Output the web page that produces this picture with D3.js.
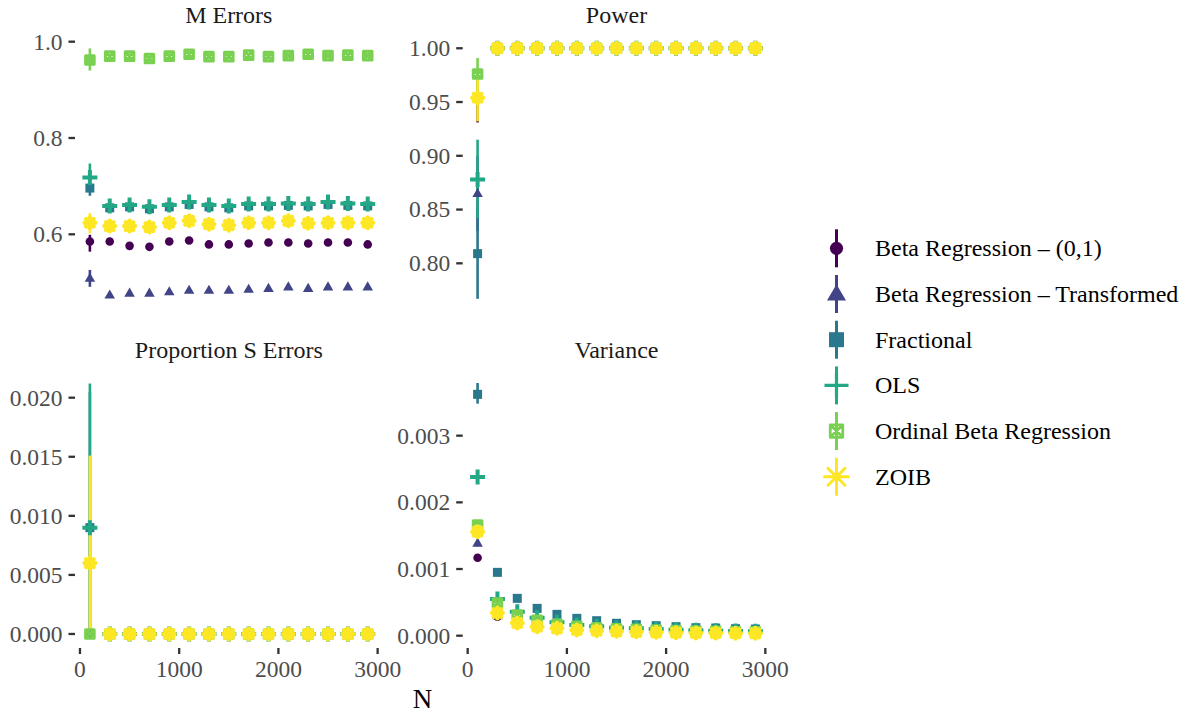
<!DOCTYPE html>
<html>
<head>
<meta charset="utf-8">
<script src="https://cdn.jsdelivr.net/npm/d3@7"></script>
<style>
	body { margin: 0; background: #fff; }
	text { font-family: "Liberation Serif", "Times New Roman", Times, "DejaVu Serif", serif; }
</style>
</head>
<body>
<svg id="chart" width="1188" height="715"></svg>
<script>
const sampleSizes = [100, 300, 500, 700, 900, 1100, 1300, 1500, 1700, 1900, 2100, 2300, 2500, 2700, 2900];
const methods = ["Beta Regression \u2013 (0,1)", "Beta Regression \u2013 Transformed", "Fractional", "OLS", "Ordinal Beta Regression", "ZOIB"];
const shapes = ["circle", "triangle", "square", "plus", "squareX", "asterisk"];
const palette = ["#440154", "#414487", "#2A788E", "#22A884", "#7AD151", "#FDE725"];

// one row per method, one value per sample size
const mErrorsEst = [
	[0.585, 0.585, 0.576, 0.574, 0.585, 0.587, 0.579, 0.579, 0.581, 0.583, 0.583, 0.581, 0.583, 0.583, 0.579],
	[0.509, 0.474, 0.478, 0.478, 0.481, 0.484, 0.484, 0.484, 0.486, 0.488, 0.491, 0.488, 0.491, 0.491, 0.491],
	[0.696, 0.655, 0.657, 0.653, 0.657, 0.662, 0.657, 0.655, 0.659, 0.659, 0.660, 0.659, 0.662, 0.660, 0.659],
	[0.718, 0.659, 0.661, 0.657, 0.661, 0.667, 0.661, 0.659, 0.663, 0.663, 0.664, 0.663, 0.667, 0.664, 0.663],
	[0.962, 0.970, 0.970, 0.965, 0.970, 0.974, 0.969, 0.969, 0.972, 0.969, 0.971, 0.974, 0.971, 0.972, 0.971],
	[0.624, 0.617, 0.617, 0.615, 0.624, 0.628, 0.621, 0.619, 0.624, 0.624, 0.628, 0.623, 0.624, 0.624, 0.624]
];
const mErrorsCi = [[0.564, 0.599], [0.491, 0.526], [0.680, 0.710], [0.692, 0.747], [0.940, 0.986], [0.602, 0.644]];

const powerEst = [
	[0.953, 1, 1, 1, 1, 1, 1, 1, 1, 1, 1, 1, 1, 1, 1],
	[0.865, 1, 1, 1, 1, 1, 1, 1, 1, 1, 1, 1, 1, 1, 1],
	[0.809, 1, 1, 1, 1, 1, 1, 1, 1, 1, 1, 1, 1, 1, 1],
	[0.878, 1, 1, 1, 1, 1, 1, 1, 1, 1, 1, 1, 1, 1, 1],
	[0.976, 1, 1, 1, 1, 1, 1, 1, 1, 1, 1, 1, 1, 1, 1],
	[0.954, 1, 1, 1, 1, 1, 1, 1, 1, 1, 1, 1, 1, 1, 1]
];
const powerCi = [[0.931, 0.975], [0.830, 0.900], [0.767, 0.850], [0.842, 0.915], [0.961, 0.991], [0.932, 0.974]];

const sErrorsEst = [
	[0, 0, 0, 0, 0, 0, 0, 0, 0, 0, 0, 0, 0, 0, 0],
	[0, 0, 0, 0, 0, 0, 0, 0, 0, 0, 0, 0, 0, 0, 0],
	[0.009, 0, 0, 0, 0, 0, 0, 0, 0, 0, 0, 0, 0, 0, 0],
	[0.009, 0, 0, 0, 0, 0, 0, 0, 0, 0, 0, 0, 0, 0, 0],
	[0, 0, 0, 0, 0, 0, 0, 0, 0, 0, 0, 0, 0, 0, 0],
	[0.006, 0, 0, 0, 0, 0, 0, 0, 0, 0, 0, 0, 0, 0, 0]
];
const sErrorsCi = [[0, 0], [0, 0], [0, 0.0205], [0, 0.0212], [0, 0], [0, 0.0151]];

const varianceEst = [
	[0.00117, 0.000285, 0.00017, 0.00012, 0.0001, 0.00008, 0.00007, 0.00006, 0.000055, 0.00005, 0.000045, 0.00004, 0.00004, 0.000035, 0.000035],
	[0.00139, 0.0003, 0.00018, 0.00013, 0.0001, 0.000085, 0.000075, 0.000065, 0.00006, 0.000052, 0.000048, 0.000044, 0.00004, 0.000038, 0.000036],
	[0.00362, 0.00095, 0.00056, 0.00041, 0.00032, 0.00026, 0.000225, 0.000186, 0.000165, 0.00015, 0.000135, 0.00012, 0.000115, 0.000105, 0.0001],
	[0.00238, 0.00055, 0.00036, 0.00027, 0.0002, 0.00016, 0.00014, 0.00012, 0.00011, 0.0001, 0.00009, 0.00008, 0.000075, 0.00007, 0.000065],
	[0.00166, 0.00049, 0.00031, 0.00023, 0.00017, 0.00014, 0.00012, 0.000105, 0.000095, 0.000085, 0.000078, 0.00007, 0.000065, 0.00006, 0.000057],
	[0.00156, 0.00034, 0.00019, 0.000135, 0.00011, 0.000086, 0.000075, 0.000065, 0.000058, 0.00005, 0.000046, 0.000042, 0.00004, 0.000037, 0.000035]
];
const varianceCi = [[0.00113, 0.00121], [0.00134, 0.00144], [0.00348, 0.00379], [0.00228, 0.00248], [0.0016, 0.00172], [0.0015, 0.00162]];

const xTicks = [0, 1000, 2000, 3000];

const panels = [
	{ title: "M Errors", est: mErrorsEst, ci: mErrorsCi, domain: [0.4397, 1.0118], ticks: [0.6, 0.8, 1.0], fmt: ".1f", col: 0, row: 0 },
	{ title: "Power", est: powerEst, ci: powerCi, domain: [0.7552, 1.0114], ticks: [0.80, 0.85, 0.90, 0.95, 1.00], fmt: ".2f", col: 1, row: 0 },
	{ title: "Proportion S Errors", est: sErrorsEst, ci: sErrorsCi, domain: [-0.00106, 0.02226], ticks: [0, 0.005, 0.010, 0.015, 0.020], fmt: ".3f", col: 0, row: 1 },
	{ title: "Variance", est: varianceEst, ci: varianceCi, domain: [-0.000162, 0.00397], ticks: [0, 0.001, 0.002, 0.003], fmt: ".3f", col: 1, row: 1 }
];

const plotMarks = { r: 4.3, tri: 10.5, sq: 9, sqx: 8.6, sqxW: 3, plus: 15, plusW: 4, ast: 10.5, astW: 4.5 };
const legendMarks = { r: 6.6, tri: 19, sq: 15, sqx: 12.5, sqxW: 2.8, plus: 24, plusW: 3.2, ast: 24, astW: 3 };
const serif = "'Liberation Serif', 'Times New Roman', Times, 'DejaVu Serif', serif";

class FacetPlot {
	constructor(svg) {
		this.svg = d3.select(svg).attr("font-family", serif);
		this.colX = [76, 463.7];
		this.rowY = [36, 371];
		this.w = 305.6;
		this.h = 275.5;
		this.x = d3.scaleLinear().domain([-40, 3040]).range([0, this.w]);
	}

	static marker(g, kind, color, m) {
		if (kind === "circle") {
			g.append("circle").attr("r", m.r).attr("fill", color);
		} else if (kind === "triangle") {
			const s = m.tri, hh = s * 0.866;
			g.append("path")
				.attr("d", `M0,${-hh * 0.6}L${s / 2},${hh * 0.4}L${-s / 2},${hh * 0.4}Z`)
				.attr("fill", color);
		} else if (kind === "square") {
			g.append("rect")
				.attr("x", -m.sq / 2).attr("y", -m.sq / 2)
				.attr("width", m.sq).attr("height", m.sq)
				.attr("fill", color);
		} else if (kind === "plus") {
			const a = m.plus / 2;
			g.append("path")
				.attr("d", `M${-a},0H${a}M0,${-a}V${a}`)
				.attr("stroke", color).attr("stroke-width", m.plusW);
		} else if (kind === "squareX") {
			const a = m.sqx / 2;
			g.append("path")
				.attr("d", `M${-a},${-a}H${a}V${a}H${-a}ZM${-a},${-a}L${a},${a}M${a},${-a}L${-a},${a}`)
				.attr("fill", "none")
				.attr("stroke", color).attr("stroke-width", m.sqxW)
				.attr("stroke-linejoin", "round");
		} else if (kind === "asterisk") {
			const a = m.ast / 2, d = a * 0.7071;
			g.append("path")
				.attr("d", `M${-a},0H${a}M0,${-a}V${a}M${-d},${-d}L${d},${d}M${d},${-d}L${-d},${d}`)
				.attr("stroke", color).attr("stroke-width", m.astW)
				.attr("stroke-linecap", "round");
		}
	}

	drawPanel(p) {
		const x0 = this.colX[p.col], y0 = this.rowY[p.row];
		const y = d3.scaleLinear().domain(p.domain).range([this.h, 0]);
		const g = this.svg.append("g").attr("transform", `translate(${x0},${y0})`);

		g.append("text")
			.attr("x", this.w / 2).attr("y", -13)
			.attr("text-anchor", "middle")
			.attr("font-size", 24).attr("fill", "#1A1A1A")
			.text(p.title);

		const yAxis = g.append("g").attr("class", "y-axis");
		p.ticks.forEach(t => {
			yAxis.append("line")
				.attr("x1", -7.5).attr("x2", -1)
				.attr("y1", y(t)).attr("y2", y(t))
				.attr("stroke", "#333333").attr("stroke-width", 2.3);
			yAxis.append("text")
				.attr("x", -13.5).attr("y", y(t) + 7.9)
				.attr("text-anchor", "end")
				.attr("font-size", 23.5).attr("fill", "#4D4D4D")
				.text(d3.format(p.fmt)(t));
		});

		if (p.row === 1) {
			const xAxis = g.append("g").attr("transform", `translate(0,${this.h})`);
			xTicks.forEach(t => {
				xAxis.append("line")
					.attr("x1", this.x(t)).attr("x2", this.x(t))
					.attr("y1", 1.5).attr("y2", 7.5)
					.attr("stroke", "#333333").attr("stroke-width", 2.3);
				xAxis.append("text")
					.attr("x", this.x(t)).attr("y", 30.5)
					.attr("text-anchor", "middle")
					.attr("font-size", 23.5).attr("fill", "#4D4D4D")
					.text(t);
			});
		}

		// ranges first, then points, like geom_pointrange
		const ranges = g.append("g");
		p.ci.forEach((c, i) => {
			if (c[0] === c[1]) return;
			ranges.append("line")
				.attr("x1", this.x(sampleSizes[0])).attr("x2", this.x(sampleSizes[0]))
				.attr("y1", y(c[0])).attr("y2", y(c[1]))
				.attr("stroke", palette[i]).attr("stroke-width", 2.6);
		});

		const points = g.append("g");
		p.est.forEach((series, i) => {
			series.forEach((v, j) => {
				const pg = points.append("g")
					.attr("transform", `translate(${this.x(sampleSizes[j])},${y(v)})`);
				FacetPlot.marker(pg, shapes[i], palette[i], plotMarks);
			});
		});
	}

	drawLegend() {
		const lg = this.svg.append("g").attr("transform", "translate(836.5,248.3)");
		methods.forEach((name, i) => {
			const row = lg.append("g").attr("transform", `translate(0,${i * 45.7})`);
			row.append("line")
				.attr("y1", -19).attr("y2", 19)
				.attr("stroke", palette[i]).attr("stroke-width", 3);
			FacetPlot.marker(row, shapes[i], palette[i], legendMarks);
			row.append("text")
				.attr("x", 38.5).attr("y", 7.8)
				.attr("font-size", 24).attr("fill", "#000")
				.text(name);
		});
	}

	draw() {
		panels.forEach(p => this.drawPanel(p));
		this.svg.append("text")
			.attr("x", 422.5).attr("y", 707.5)
			.attr("text-anchor", "middle")
			.attr("font-size", 27).attr("fill", "#000")
			.text("N");
		this.drawLegend();
	}
}

new FacetPlot(document.getElementById("chart")).draw();
</script>
</body>
</html>
